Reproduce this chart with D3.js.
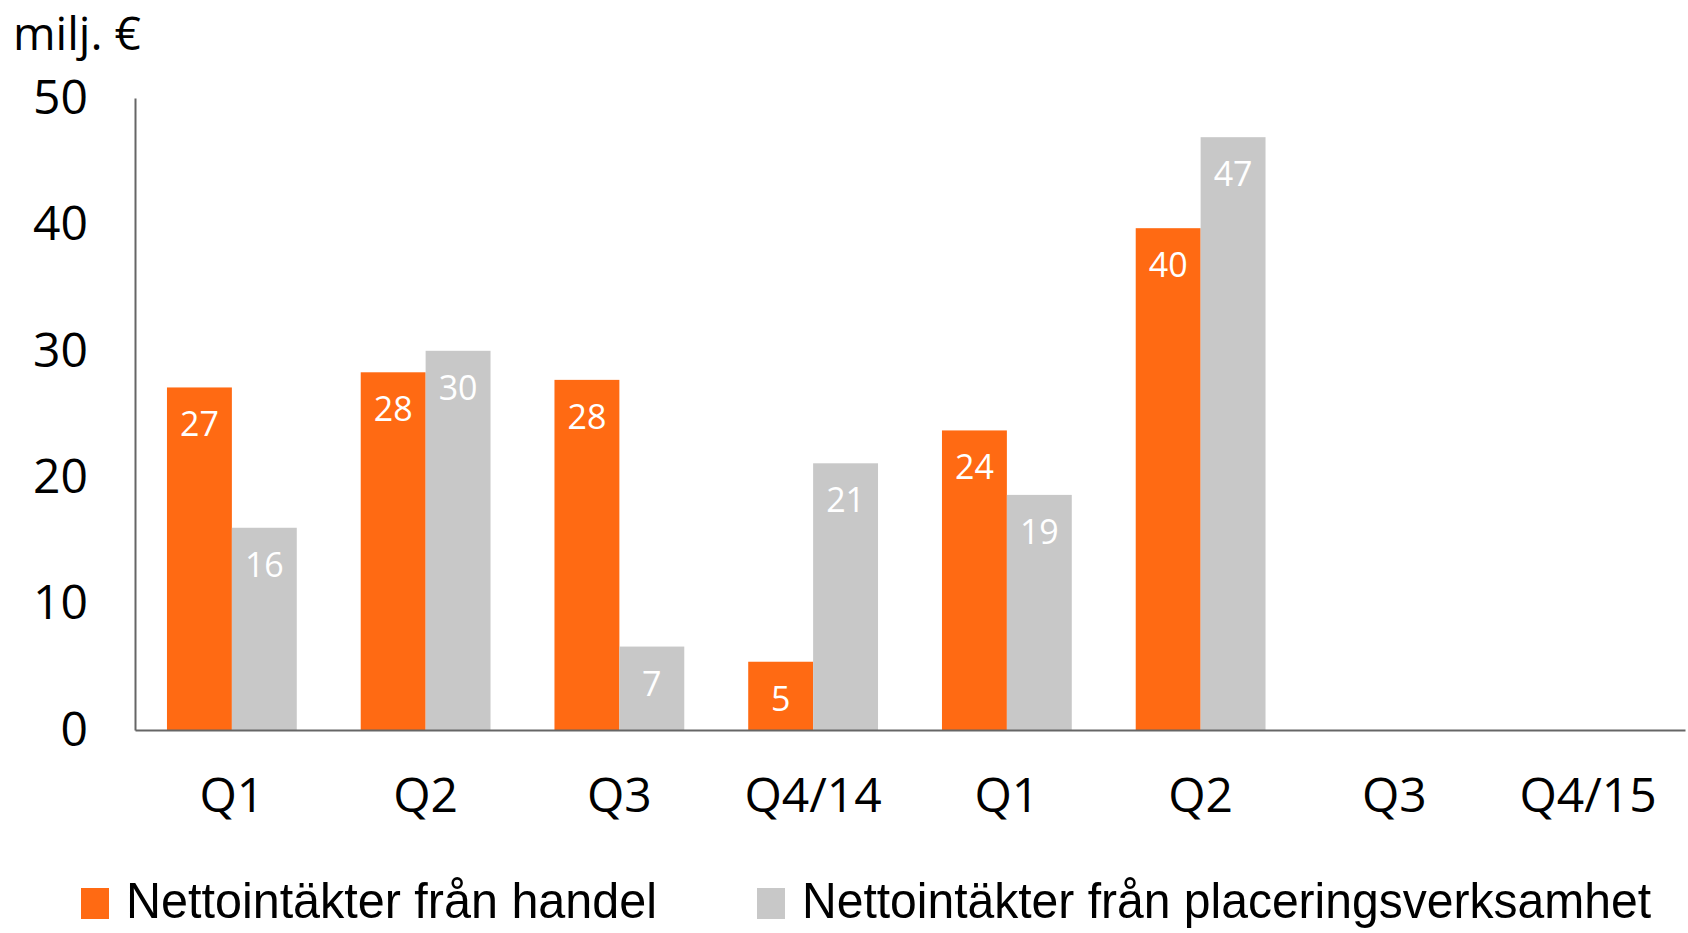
<!DOCTYPE html>
<html>
<head>
<meta charset="utf-8">
<script src="https://cdn.jsdelivr.net/npm/d3@7"></script>
<style>
  body { margin: 0; background: #fff; }
  svg { display: block; }
</style>
</head>
<body>
<div id="chart"></div>
<script>

// quarters 2014 - 2015
var quarters = ["Q1", "Q2", "Q3", "Q4/14", "Q1", "Q2", "Q3", "Q4/15"];
var handel = [27.1, 28.3, 27.7, 5.4, 23.7, 39.7, null, null];
var placering = [16.0, 30.0, 6.6, 21.1, 18.6, 46.9, null, null];
var seriesNames = ["Nettointäkter från handel", "Nettointäkter från placeringsverksamhet"];
var yTicks = [0, 10, 20, 30, 40, 50];

var colors = ["#ff6a13", "#c8c8c8"];

function drawBarChart(){
    var width = 1688, height = 933;
    var left = 135, right = 1685, top = 98, bottom = 730;

    var svg = d3.select("#chart").append("svg")
        .attr("width", width)
        .attr("height", height);

    var idx = d3.range(quarters.length);

    var x = d3.scaleBand()
        .domain(idx)
        .range([left, right])
        .paddingInner(0.33)
        .paddingOuter(0.165);

    var xSub = d3.scaleBand()
        .domain([0, 1])
        .range([0, x.bandwidth()]);

    var y = d3.scaleLinear()
        .domain([0, 50])
        .range([bottom, top]);

    var font = "'Open Sans', sans-serif";

    // y axis
    var yAxis = svg.append("g")
        .attr("transform", "translate(" + left + ",0)")
        .call(d3.axisLeft(y).tickValues(yTicks).tickSize(0).tickPadding(47));
    yAxis.select(".domain").attr("stroke", "#666").attr("stroke-width", 2);
    yAxis.selectAll("text")
        .attr("font-family", font)
        .attr("font-size", 48)
        .attr("fill", "#000");

    // bars
    var rows = idx.map(function(i){
        return [handel[i], placering[i]];
    });

    var groups = svg.selectAll("g.grp")
        .data(rows)
        .enter().append("g")
        .attr("class", "grp")
        .attr("transform", function(d, i){ return "translate(" + x(i) + ",0)"; });

    var cells = groups.selectAll("g.cell")
        .data(function(d){
            return d.map(function(v, s){ return {s: s, v: v}; }).filter(function(e){ return e.v != null; });
        })
        .enter().append("g")
        .attr("class", "cell");

    cells.append("rect")
        .attr("x", function(d){ return xSub(d.s); })
        .attr("y", function(d){ return y(d.v); })
        .attr("width", xSub.bandwidth())
        .attr("height", function(d){ return y(0) - y(d.v); })
        .attr("fill", function(d){ return colors[d.s]; });

    cells.append("text")
        .attr("x", function(d){ return xSub(d.s) + xSub.bandwidth() / 2; })
        .attr("y", function(d){ return y(d.v) + 49; })
        .attr("text-anchor", "middle")
        .attr("font-family", font)
        .attr("font-size", 34)
        .attr("fill", "#fff")
        .text(function(d){ return d3.format(".0f")(d.v); });

    // x axis
    var xAxis = svg.append("g")
        .attr("transform", "translate(0," + bottom + ")")
        .call(d3.axisBottom(x).tickSize(0).tickPadding(48).tickFormat(function(i){ return quarters[i]; }));
    xAxis.select(".domain").attr("stroke", "#666").attr("stroke-width", 2);
    xAxis.selectAll("text")
        .attr("font-family", font)
        .attr("font-size", 48)
        .attr("fill", "#000");

    // unit
    svg.append("text")
        .attr("x", 13)
        .attr("y", 50)
        .attr("font-family", font)
        .attr("font-size", 46)
        .text("milj. €");

    // legend
    var legendX = [81, 757];
    var legendW = [531, 849];
    var legend = svg.selectAll("g.legend")
        .data(seriesNames)
        .enter().append("g")
        .attr("class", "legend")
        .attr("transform", function(d, i){ return "translate(" + legendX[i] + ",888)"; });

    legend.append("rect")
        .attr("width", 28)
        .attr("height", 31)
        .attr("fill", function(d, i){ return colors[i]; });

    legend.append("text")
        .attr("x", 45)
        .attr("y", 30)
        .attr("font-family", "'Liberation Sans Narrow', 'Liberation Sans', sans-serif")
        .attr("font-size", 50)
        .attr("textLength", function(d, i){ return legendW[i]; })
        .attr("lengthAdjust", "spacingAndGlyphs")
        .text(function(d){ return d; });
}

drawBarChart()

</script>
</body>
</html>
